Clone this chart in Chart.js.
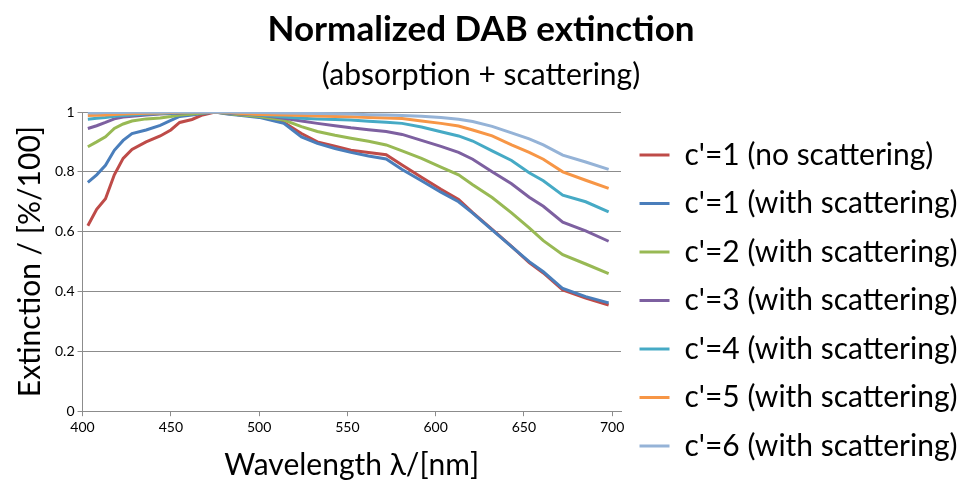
<!DOCTYPE html>
<html>
<head>
<meta charset="utf-8">
<title>Normalized DAB extinction</title>
<script src="https://cdn.jsdelivr.net/npm/chart.js@4.4.1/dist/chart.umd.min.js"></script>
<style>
    html, body { margin: 0; padding: 0; background: #fff; }
    #chartWrap { width: 962px; height: 483px; }
</style>
</head>
<body>
<div id="chartWrap"><canvas id="dabChart" width="962" height="483"></canvas></div>
<script>
// wavelengths in nm
const wavelengths = [403, 408, 413, 418, 423, 428, 436, 444, 450, 455, 462, 468, 475, 482, 490, 500, 514, 524, 533, 543,
    552, 562, 572, 581, 592, 603, 613, 621, 632, 643, 653, 661, 672, 685, 698];

const c1NoScatter = [0.62, 0.675, 0.71, 0.79, 0.845, 0.875, 0.90, 0.92, 0.94, 0.965, 0.975, 0.99, 1.0, 0.995, 0.99, 0.985, 0.965, 0.928, 0.90, 0.886,
    0.872, 0.865, 0.857, 0.823, 0.782, 0.742, 0.708, 0.664, 0.608, 0.551, 0.497, 0.462, 0.405, 0.378, 0.355];
const c1Scatter = [0.765, 0.79, 0.822, 0.872, 0.905, 0.928, 0.94, 0.955, 0.972, 0.985, 0.99, 0.995, 1.0, 0.993, 0.988, 0.982, 0.962, 0.917, 0.895, 0.878,
    0.865, 0.853, 0.843, 0.808, 0.77, 0.732, 0.70, 0.662, 0.606, 0.55, 0.50, 0.466, 0.41, 0.383, 0.362];
const c2Scatter = [0.884, 0.90, 0.917, 0.945, 0.96, 0.97, 0.977, 0.98, 0.985, 0.99, 0.993, 0.997, 1.0, 0.995, 0.99, 0.985, 0.973, 0.951, 0.935, 0.922,
    0.912, 0.902, 0.89, 0.87, 0.845, 0.816, 0.79, 0.757, 0.714, 0.663, 0.613, 0.57, 0.523, 0.492, 0.46];
const c3Scatter = [0.945, 0.954, 0.965, 0.977, 0.983, 0.986, 0.99, 0.993, 0.995, 0.997, 0.998, 0.999, 1.0, 0.997, 0.993, 0.99, 0.979, 0.97, 0.962, 0.954,
    0.947, 0.941, 0.935, 0.925, 0.905, 0.885, 0.865, 0.842, 0.80, 0.76, 0.715, 0.685, 0.632, 0.603, 0.568];
const c4Scatter = [0.976, 0.979, 0.982, 0.986, 0.988, 0.99, 0.993, 0.995, 0.997, 0.998, 0.999, 1.0, 1.0, 0.998, 0.995, 0.99, 0.983, 0.979, 0.977, 0.975,
    0.973, 0.969, 0.966, 0.962, 0.95, 0.934, 0.92, 0.903, 0.87, 0.838, 0.797, 0.77, 0.722, 0.70, 0.666];
const c5Scatter = [0.988, 0.989, 0.99, 0.992, 0.993, 0.994, 0.996, 0.997, 0.998, 0.999, 1.0, 1.0, 1.0, 0.999, 0.995, 0.992, 0.99, 0.988, 0.987, 0.985,
    0.984, 0.982, 0.98, 0.978, 0.97, 0.962, 0.953, 0.94, 0.92, 0.89, 0.865, 0.842, 0.80, 0.772, 0.745];
const c6Scatter = [0.997, 0.997, 0.998, 0.998, 0.998, 0.999, 0.999, 0.999, 1.0, 1.0, 1.0, 1.0, 1.0, 1.0, 0.999, 0.998, 0.997, 0.996, 0.995, 0.994,
    0.993, 0.991, 0.99, 0.988, 0.986, 0.982, 0.976, 0.968, 0.952, 0.93, 0.91, 0.89, 0.856, 0.833, 0.808];

const seriesLabels = [
    "c'=1 (no scattering)",
    "c'=1 (with scattering)",
    "c'=2 (with scattering)",
    "c'=3 (with scattering)",
    "c'=4 (with scattering)",
    "c'=5 (with scattering)",
    "c'=6 (with scattering)"
];
const seriesValues = [c1NoScatter, c1Scatter, c2Scatter, c3Scatter, c4Scatter, c5Scatter, c6Scatter];
const lineColors = ['#BE4B48', '#4A7EBB', '#98B954', '#7D60A0', '#46AAC5', '#F79646', '#95B3D7'];

const xTickValues = [400, 450, 500, 550, 600, 650, 700];

Chart.defaults.font.family = 'Lato, "Open Sans", sans-serif';
Chart.defaults.color = '#000';

const datasets = seriesValues.map((values, i) => ({
    label: seriesLabels[i],
    data: wavelengths.map((w, j) => ({ x: w, y: values[j] })),
    borderColor: lineColors[i],
    backgroundColor: lineColors[i],
    borderWidth: 3,
    pointRadius: 0,
    tension: 0,
    fill: false,
    order: seriesValues.length - 1 - i   // later series drawn on top, as in the original
}));

const axisGrey = '#8c8c8c';

new Chart(document.getElementById('dabChart').getContext('2d'), {
    type: 'line',
    data: { datasets: datasets },
    options: {
        responsive: false,
        animation: false,
        layout: { padding: 0 },
        plugins: {
            title: {
                display: true,
                text: 'Normalized DAB extinction',
                color: '#000',
                font: { size: 35, weight: 'bold' },
                padding: { top: 9, bottom: 6 }
            },
            subtitle: {
                display: true,
                text: '(absorption + scattering)',
                color: '#000',
                font: { size: 30, weight: 'normal' },
                padding: { top: 0, bottom: 19 }
            },
            legend: {
                position: 'right',
                align: 'start',
                reverse: true,
                maxWidth: 341,
                // empty legend title only pushes the items down beside the plot
                title: { display: true, text: '', font: { size: 10 }, padding: { top: 109.5, bottom: 0 } },
                labels: {
                    usePointStyle: true,
                    pointStyle: 'line',
                    pointStyleWidth: 30,
                    padding: 18.5,
                    color: '#000',
                    font: { size: 30 }
                }
            },
            tooltip: { enabled: false }
        },
        scales: {
            x: {
                type: 'linear',
                min: 400,
                max: 705,
                afterBuildTicks: axis => {
                    axis.ticks = xTickValues.map(v => ({ value: v }));
                },
                ticks: { color: '#000', font: { size: 14 }, padding: 3, maxRotation: 0 },
                grid: { drawOnChartArea: false, tickLength: 5, color: axisGrey },
                border: { color: axisGrey },
                title: {
                    display: true,
                    text: 'Wavelength λ/[nm]',
                    color: '#000',
                    font: { size: 30 },
                    padding: { top: 8, bottom: 0 }
                }
            },
            y: {
                min: 0,
                max: 1,
                ticks: {
                    stepSize: 0.2,
                    color: '#000',
                    font: { size: 14 },
                    padding: 3,
                    callback: v => String(Number(v.toFixed(1)))
                },
                grid: { color: axisGrey, tickLength: 5 },
                border: { color: axisGrey },
                title: {
                    display: true,
                    text: 'Extinction / [%/100]',
                    color: '#000',
                    font: { size: 30 },
                    padding: { top: 12, bottom: 4 }
                }
            }
        }
    }
});
</script>
</body>
</html>
